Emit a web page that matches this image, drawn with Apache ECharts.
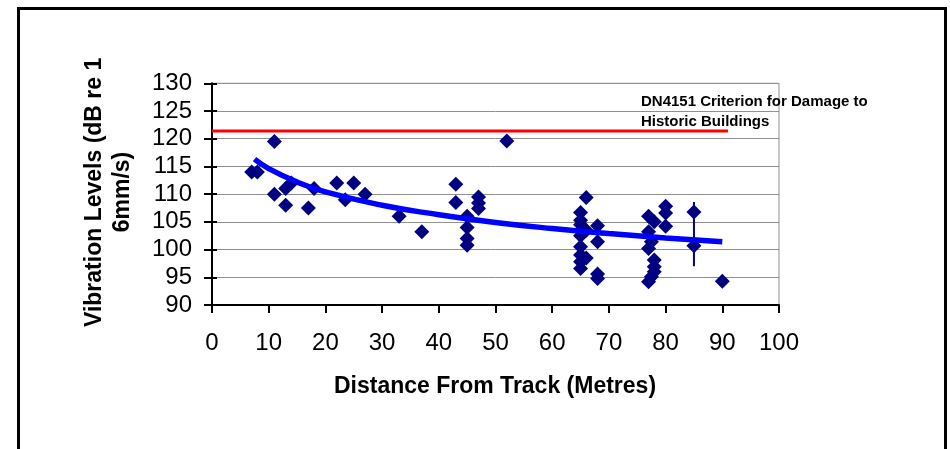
<!DOCTYPE html>
<html>
<head>
<meta charset="utf-8">
<script src="https://cdn.jsdelivr.net/npm/echarts@6/dist/echarts.min.js"></script>
<style>html,body{margin:0;padding:0;background:#fff;}#c{width:950px;height:449px;}</style>
</head>
<body>
<div id="c"></div>
<script>
// Measured points: distance from track (m) and vibration level (dB)
const distances = [7, 8, 11, 11, 13, 13, 14, 17, 18, 22, 23.5, 25, 27, 33, 37,
  43, 43, 45, 45, 45, 45, 47, 47, 47, 52,
  66, 65, 65, 65, 65, 65, 65, 65, 65, 66, 66, 68, 68, 68, 68,
  77, 78, 80, 80, 80, 77, 77.5, 77, 78, 78, 78, 77.5, 77, 85, 85, 90];
const levels = [114, 114, 119.5, 110, 111, 108, 112, 107.5, 111, 112, 109, 112, 110, 106, 103.2,
  111.8, 108.5, 106, 104, 102, 100.8, 109.5, 108.4, 107.4, 119.6,
  109.4, 106.7, 105.3, 104.5, 102.5, 100.5, 99, 97.8, 96.6, 103.5, 98.5, 104.3, 101.4, 95.6, 94.8,
  106, 105, 107.8, 106.6, 104.2, 103.2, 101.4, 100.2, 98.1, 96.9, 96, 95.1, 94.2, 106.8, 100.7, 94.3];

// Trend line
const trendX = [7.5, 10, 15, 20, 30, 40, 50, 60, 70, 80, 90];
const trendY = [116.3, 114.6, 112.2, 110.4, 108.0, 106.3, 104.9, 103.8, 102.9, 102.1, 101.4];

// Criterion line
const criterionX = [0, 91];
const criterionY = [121.4, 121.4];

// Vertical bar at 85 m
const barX = [85, 85];
const barY = [97, 108.6];

const xTicks = [0, 10, 20, 30, 40, 50, 60, 70, 80, 90, 100];
const yTicks = [90, 95, 100, 105, 110, 115, 120, 125, 130];

const criterionLabel = ['DN4151 Criterion for Damage to', 'Historic Buildings'];
const xTitle = 'Distance From Track (Metres)';
const yTitleLines = ['Vibration Levels (dB re 1', '6mm/s)'];

const zip = (a, b) => a.map((v, i) => [v, b[i]]);

const chart = echarts.init(document.getElementById('c'), null, {renderer: 'canvas'});
const font = 'Arial, "Liberation Sans", sans-serif';

const option = {
  backgroundColor: '#fff',
  animation: false,
  grid: {left: 212, top: 83.3, right: 171, bottom: 144, show: true, borderColor: '#909090', borderWidth: 1, backgroundColor: 'transparent'},
  xAxis: {
    type: 'value', min: xTicks[0], max: xTicks[xTicks.length - 1], interval: 10,
    axisLine: {show: true, onZero: false, lineStyle: {color: '#000', width: 2}},
    axisTick: {show: true, length: 8, lineStyle: {color: '#000', width: 2}},
    axisLabel: {color: '#000', fontSize: 24, fontFamily: font, margin: 26},
    splitLine: {show: false}
  },
  yAxis: [{
    type: 'value', min: yTicks[0], max: yTicks[yTicks.length - 1], interval: 5,
    axisLine: {show: true, onZero: false, lineStyle: {color: '#000', width: 2}},
    axisTick: {show: true, length: 8, lineStyle: {color: '#000', width: 2}},
    axisLabel: {color: '#000', fontSize: 24, fontFamily: font, margin: 20},
    splitLine: {show: true, lineStyle: {color: '#909090', width: 1}}
  }, {
    type: 'value', min: yTicks[0], max: yTicks[yTicks.length - 1], interval: 5, position: 'left',
    axisLine: {show: false},
    axisTick: {show: true, inside: true, length: 5, lineStyle: {color: '#000', width: 2}},
    axisLabel: {show: false},
    splitLine: {show: false}
  }],
  series: [
    {
      type: 'line', data: zip(criterionX, criterionY), showSymbol: false, symbol: 'none',
      lineStyle: {color: '#ff0000', width: 3}, z: 3
    },
    {
      type: 'line', data: zip(barX, barY), symbol: 'none',
      lineStyle: {color: '#000080', width: 2}, z: 4
    },
    {
      type: 'scatter', data: zip(distances, levels), symbol: 'diamond', symbolSize: [15, 15],
      itemStyle: {color: '#000080', opacity: 1}, z: 5
    },
    {
      type: 'line', data: zip(trendX, trendY), smooth: true, symbol: 'none',
      lineStyle: {color: '#0000ff', width: 5.5}, z: 6
    }
  ],
  graphic: [
    {type: 'rect', shape: {x: 18.5, y: 8.5, width: 927, height: 480}, style: {fill: 'none', stroke: '#000', lineWidth: 3}, silent: true},
    {type: 'text', x: 641, y: 101.5, style: {text: criterionLabel[0], font: 'bold 15px ' + font, fill: '#000', textVerticalAlign: 'middle'}},
    {type: 'text', x: 641, y: 121.5, style: {text: criterionLabel[1], font: 'bold 15px ' + font, fill: '#000', textVerticalAlign: 'middle'}},
    {type: 'text', x: 495, y: 387, style: {text: xTitle, font: 'bold 23px ' + font, fill: '#000', textAlign: 'center', textVerticalAlign: 'middle'}},
    {type: 'text', x: 95, y: 327, rotation: Math.PI / 2, style: {text: yTitleLines[0], font: 'bold 23px ' + font, fill: '#000', textAlign: 'left', textVerticalAlign: 'middle'}},
    {type: 'text', x: 123, y: 192, rotation: Math.PI / 2, style: {text: yTitleLines[1], font: 'bold 23px ' + font, fill: '#000', textAlign: 'center', textVerticalAlign: 'middle'}}
  ]
};
chart.setOption(option);
</script>
</body>
</html>
